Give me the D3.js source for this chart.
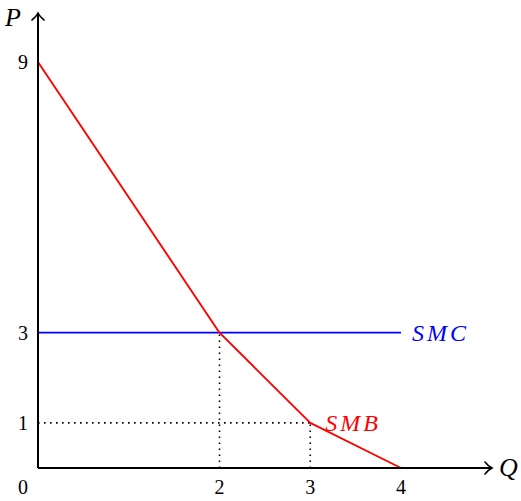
<!DOCTYPE html>
<html>
<head>
<meta charset="utf-8">
<script src="https://cdn.jsdelivr.net/npm/d3@7"></script>
<style>
  html, body { margin: 0; padding: 0; background: #fff; }
</style>
</head>
<body>
<svg id="chart" width="521" height="501"></svg>
<script>
// Social marginal benefit (kinked demand) and social marginal cost
const smbQ = [0, 2, 3, 4];
const smbP = [9, 3, 1, 0];
const smcQ = [0, 4];
const smcP = [3, 3];
const xTickValues = [2, 3, 4];
const xTickLabels = ["2", "3", "4"];
const yTickValues = [1, 3, 9];
const yTickLabels = ["1", "3", "9"];
// dotted guides: [q0, p0, q1, p1]
const guides = [[2, 0, 2, 3], [0, 1, 3, 1], [3, 0, 3, 1]];

const FONT = "'Liberation Serif', 'Times New Roman', serif";

const svg = d3.select("#chart");
const x = d3.scaleLinear().domain([0, 4]).range([38, 401]);
const y = d3.scaleLinear().domain([0, 9]).range([468, 62]);

// dotted guide lines
svg.selectAll("line.guide").data(guides).enter().append("line")
  .attr("x1", d => x(d[0])).attr("y1", d => y(d[1]))
  .attr("x2", d => x(d[2])).attr("y2", d => y(d[3]))
  .attr("stroke", "#000").attr("stroke-width", 1.6)
  .attr("stroke-dasharray", "1.6,4.4");

const line = d3.line().x(d => x(d[0])).y(d => y(d[1]));

// SMC
svg.append("path")
  .datum(smcQ.map((q, i) => [q, smcP[i]]))
  .attr("d", line).attr("fill", "none")
  .attr("stroke", "#0000ff").attr("stroke-width", 1.9);

// SMB
svg.append("path")
  .datum(smbQ.map((q, i) => [q, smbP[i]]))
  .attr("d", line).attr("fill", "none")
  .attr("stroke", "#ff0000").attr("stroke-width", 1.9)
  .attr("stroke-linejoin", "round");

// axes
const x0 = x(0), y0 = y(0);
svg.append("path")
  .attr("d", `M${x0},${y0} H491 M${x0},${y0} V14`)
  .attr("fill", "none").attr("stroke", "#000").attr("stroke-width", 2);
// arrow heads
svg.append("path")
  .attr("d", "M485,462 Q488,466 492,468 Q488,470 485,474")
  .attr("fill", "none").attr("stroke", "#000").attr("stroke-width", 1.6)
  .attr("stroke-linecap", "round");
svg.append("path")
  .attr("d", `M${x0 - 6},${20} Q${x0 - 2},${17} ${x0},${13} Q${x0 + 2},${17} ${x0 + 6},${20}`)
  .attr("fill", "none").attr("stroke", "#000").attr("stroke-width", 1.6)
  .attr("stroke-linecap", "round");

// tick labels
svg.selectAll("text.xt").data(xTickValues).enter().append("text")
  .attr("font-family", FONT)
  .attr("x", d => x(d)).attr("y", 494)
  .attr("text-anchor", "middle").attr("font-size", 20)
  .text((d, i) => xTickLabels[i]);
svg.selectAll("text.yt").data(yTickValues).enter().append("text")
  .attr("font-family", FONT)
  .attr("x", 28).attr("y", d => y(d) + 7)
  .attr("text-anchor", "end").attr("font-size", 20)
  .text((d, i) => yTickLabels[i]);
svg.append("text").attr("font-family", FONT).attr("x", 28).attr("y", 494)
  .attr("text-anchor", "end").attr("font-size", 20).text("0");

// axis titles
svg.append("text").attr("font-family", FONT).attr("x", 5).attr("y", 26)
  .attr("font-size", 26).attr("font-style", "italic").text("P");
svg.append("text").attr("font-family", FONT).attr("x", 499).attr("y", 476)
  .attr("font-size", 26).attr("font-style", "italic").text("Q");

// curve labels
svg.append("text").attr("font-family", FONT)
  .attr("x", x(4) + 11).attr("y", y(3) + 8)
  .attr("font-size", 24).attr("font-style", "italic")
  .attr("fill", "#0000ff").attr("letter-spacing", 3).text("SMC");
svg.append("text").attr("font-family", FONT)
  .attr("x", x(3) + 15).attr("y", y(1) + 8)
  .attr("font-size", 24).attr("font-style", "italic")
  .attr("fill", "#ff0000").attr("letter-spacing", 3).text("SMB");
</script>
</body>
</html>
